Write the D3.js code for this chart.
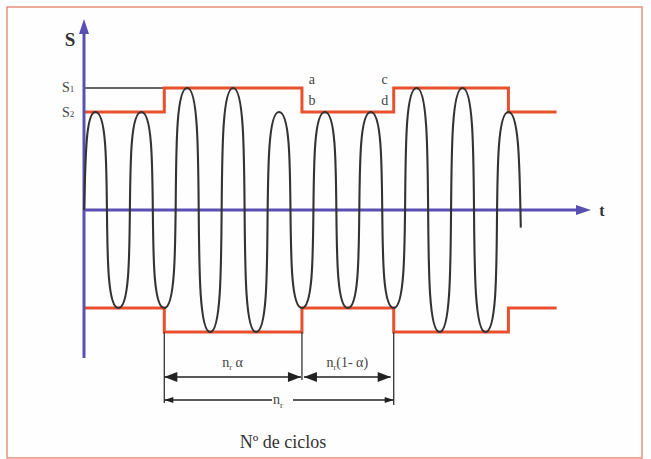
<!DOCTYPE html>
<html>
<head>
<meta charset="utf-8">
<script src="https://cdn.jsdelivr.net/npm/d3@7/dist/d3.min.js"></script>
<style>
  html, body { margin: 0; padding: 0; background: #ffffff; }
  svg { display: block; }
  svg text { font-family: "Liberation Serif", "Times New Roman", "DejaVu Serif", serif; }
</style>
</head>
<body>
<svg id="chart" width="651" height="459"></svg>
<script>
// ---------- data ----------
const levelNames = ["S1", "S2"];
const levelValues = [1.245, 1.0];            // relative stress amplitudes
// envelope blocks (in cycles)
const blockStart = [0, 1.75, 4.75, 6.75, 9.25];
const blockEnd   = [1.75, 4.75, 6.75, 9.25, 10.3];
const blockLevel = ["S2", "S1", "S2", "S1", "S2"];
// wave extrema (cycle position, signed level)
const extremaCycle = [0.25, 0.75, 1.25, 1.75, 2.25, 2.75, 3.25, 3.75, 4.25, 4.75,
                      5.25, 5.75, 6.25, 6.75, 7.25, 7.75, 8.25, 8.75, 9.25];
const extremaLevel = ["+S2", "-S2", "+S2", "-S2", "+S1", "-S1", "+S1", "-S1", "+S2", "-S2",
                      "+S2", "-S2", "+S2", "-S2", "+S1", "-S1", "+S1", "-S1", "+S2"];
const waveStart = [0, 0];
const waveEnd = [9.52, -0.18];
// dimension arrows
const dimFrom  = [1.75, 4.75, 1.75];
const dimTo    = [4.75, 6.75, 6.75];
const dimLabel = ["α", "(1- α)", ""];
const pointLabels = ["a", "b", "c", "d"];
const xTitle = "Nº de ciclos";
const yTitle = "S";
const xAxisName = "t";

// ---------- layout ----------
const svg = d3.select("#chart");
const x = d3.scaleLinear().domain([0, 10.3]).range([84, 556.6]);
const y = d3.scaleLinear().domain([-1, 1]).range([308, 112]);
const lv = n => levelValues[levelNames.indexOf(n)];
const sv = s => (s[0] === "-" ? -1 : 1) * lv(s.slice(1));

const RED = "#e8502e", BLUE = "#5a50b4", WAVE = "#333333", TXT = "#444444";

// frame
svg.append("rect").attr("x", 7).attr("y", 7).attr("width", 635).attr("height", 451)
  .attr("fill", "#fefefe").attr("stroke", "#e48a74").attr("stroke-width", 1.4);

// S1 reference line (black) up to the first step
svg.append("line")
  .attr("x1", x(0)).attr("x2", x(blockStart[1]))
  .attr("y1", y(lv("S1"))).attr("y2", y(lv("S1")))
  .attr("stroke", "#333").attr("stroke-width", 1.4);

// envelopes
function envPath(sign) {
  const p = d3.path();
  blockStart.forEach((s, i) => {
    const yy = y(sign * lv(blockLevel[i]));
    if (i === 0) p.moveTo(x(s), yy); else p.lineTo(x(s), yy);
    p.lineTo(x(blockEnd[i]), yy);
  });
  return p.toString();
}
[1, -1].forEach(sg => svg.append("path").attr("d", envPath(sg))
  .attr("fill", "none").attr("stroke", RED).attr("stroke-width", 3));

// extension lines for dimensions
const extFrom = [1.75, 4.75, 6.75];
const extBottom = [403, 380, 405];
extFrom.forEach((c, i) => svg.append("line")
  .attr("x1", x(c)).attr("x2", x(c))
  .attr("y1", y(-lv("S1"))).attr("y2", extBottom[i])
  .attr("stroke", "#333").attr("stroke-width", 1.3));

// axes
const ax = svg.append("g");
ax.append("line").attr("x1", x(0)).attr("x2", x(0)).attr("y1", 358).attr("y2", 30)
  .attr("stroke", BLUE).attr("stroke-width", 3);
ax.append("path").attr("d", `M${x(0)},19 L${x(0) - 5},34 L${x(0) + 5},34 Z`).attr("fill", BLUE);
ax.append("line").attr("x1", x(0)).attr("x2", 580).attr("y1", y(0)).attr("y2", y(0))
  .attr("stroke", BLUE).attr("stroke-width", 3);
ax.append("path").attr("d", `M591,${y(0)} L576,${y(0) - 5} L576,${y(0) + 5} Z`).attr("fill", BLUE);

// wave
const K = 0.92; // control-point reach (fraction of half period)
const wp = d3.path();
{
  const x0 = x(waveStart[0]), y0 = y(waveStart[1]);
  const x1 = x(extremaCycle[0]), y1 = y(sv(extremaLevel[0]));
  const q = x1 - x0;
  wp.moveTo(x0, y0);
  wp.bezierCurveTo(x0 + q * 0.15, y0 + (y1 - y0) * 0.45, x1 - q * K, y1, x1, y1);
  for (let i = 1; i < extremaCycle.length; i++) {
    const xa = x(extremaCycle[i - 1]), ya = y(sv(extremaLevel[i - 1]));
    const xb = x(extremaCycle[i]), yb = y(sv(extremaLevel[i]));
    const h = xb - xa;
    wp.bezierCurveTo(xa + h * K, ya, xb - h * K, yb, xb, yb);
  }
  const last = extremaCycle.length - 1;
  const xl = x(extremaCycle[last]), yl = y(sv(extremaLevel[last]));
  const xe = x(waveEnd[0]), ye = y(waveEnd[1]);
  const q2 = xe - xl;
  wp.bezierCurveTo(xl + q2 * K, yl, xe - q2 * 0.1, ye - (ye - yl) * 0.45, xe, ye);
}
svg.append("path").attr("d", wp.toString()).attr("fill", "none")
  .attr("stroke", WAVE).attr("stroke-width", 2.1).attr("stroke-linejoin", "round");

// level labels
levelNames.forEach(n => {
  const t = svg.append("text").attr("x", 62).attr("y", y(lv(n)) + 4.5)
    .attr("font-size", 14).attr("fill", TXT);
  t.append("tspan").text(n[0]);
  t.append("tspan").attr("font-size", 9).text(n.slice(1));
});
// S title
svg.append("text").attr("x", 70).attr("y", 46).attr("text-anchor", "middle")
  .attr("font-size", 19).attr("font-weight", "bold").attr("fill", "#333").text(yTitle);
// t
svg.append("text").attr("x", 602).attr("y", y(0) + 6).attr("text-anchor", "middle")
  .attr("font-size", 16).attr("font-weight", "bold").attr("fill", "#333").text(xAxisName);

// a b c d
const ptX = [4.75, 4.75, 6.75, 6.75];
const ptLv = ["S1", "S2", "S1", "S2"];
const ptDx = [10, 10, -9, -9];
const ptDy = [-4, -7, -4, -7];
pointLabels.forEach((l, i) => svg.append("text")
  .attr("x", x(ptX[i]) + ptDx[i]).attr("y", y(lv(ptLv[i])) + ptDy[i])
  .attr("text-anchor", "middle").attr("font-size", 14).attr("fill", TXT).text(l));

// dimension arrows
function arrowHead(g, tx, ty, dir, len, hw) {
  g.append("path").attr("d",
    `M${tx},${ty} L${tx + dir * len},${ty - hw} L${tx + dir * len},${ty + hw} Z`).attr("fill", "#222");
}
const dg = svg.append("g");
[0, 1].forEach(i => {
  const xa = x(dimFrom[i]) + (i === 1 ? 2 : 0), xb = x(dimTo[i]) - (i === 1 ? 3 : 1);
  const yy = 377;
  dg.append("line").attr("x1", xa).attr("x2", xb).attr("y1", yy).attr("y2", yy)
    .attr("stroke", "#222").attr("stroke-width", 1.5);
  arrowHead(dg, xa, yy, 1, 13, 5);
  arrowHead(dg, xb, yy, -1, 13, 5);
  const t = dg.append("text").attr("x", (xa + xb) / 2).attr("y", 367)
    .attr("text-anchor", "middle").attr("font-size", 14).attr("fill", TXT);
  t.append("tspan").text("n");
  t.append("tspan").attr("font-size", 8).attr("dy", 3).text("r");
  t.append("tspan").attr("dy", -3).text(i === 0 ? " " + dimLabel[i] : dimLabel[i]);
});
{
  const xa = x(dimFrom[2]), xb = x(dimTo[2]), yy = 400, mid = 282;
  dg.append("line").attr("x1", xa).attr("x2", mid - 10).attr("y1", yy).attr("y2", yy)
    .attr("stroke", "#222").attr("stroke-width", 1.3);
  dg.append("line").attr("x1", mid + 11).attr("x2", xb).attr("y1", yy).attr("y2", yy)
    .attr("stroke", "#222").attr("stroke-width", 1.3);
  arrowHead(dg, xa, yy, 1, 9, 3);
  arrowHead(dg, xb, yy, -1, 9, 3);
  const t = dg.append("text").attr("x", mid - 4).attr("y", 404)
    .attr("text-anchor", "middle").attr("font-size", 14).attr("fill", TXT);
  t.append("tspan").text("n");
  t.append("tspan").attr("font-size", 9).attr("dy", 4).text("r");
}

// x title
svg.append("text").attr("x", 283).attr("y", 448).attr("text-anchor", "middle")
  .attr("font-size", 18).attr("fill", "#333").text(xTitle);
</script>
</body>
</html>
